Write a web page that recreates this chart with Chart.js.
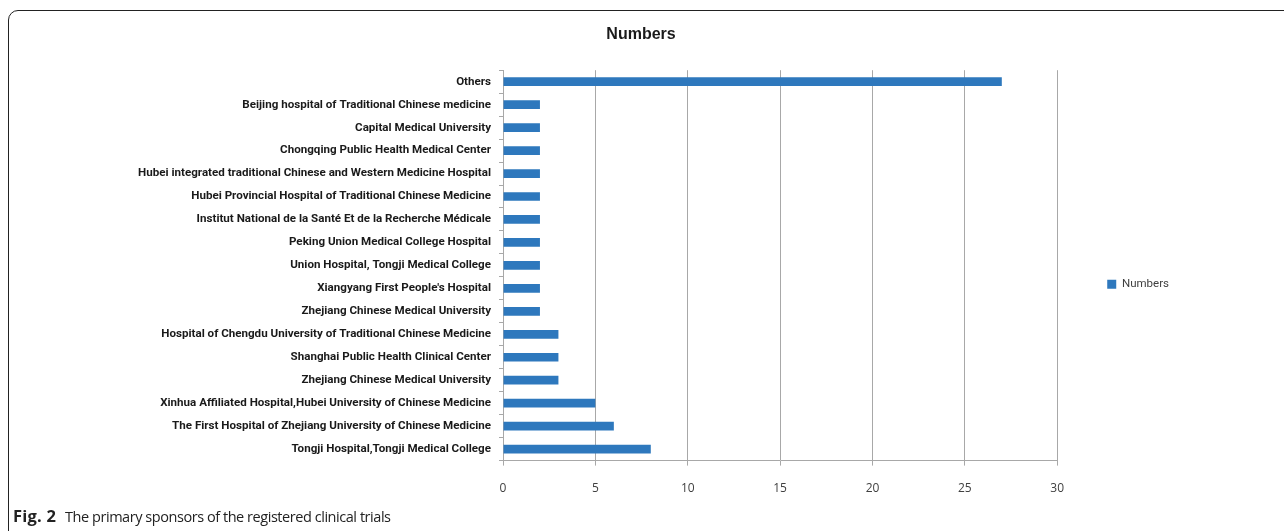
<!DOCTYPE html>
<html>
<head>
<meta charset="utf-8">
<script src="https://cdn.jsdelivr.net/npm/chart.js@4.4.1/dist/chart.umd.min.js"></script>
<style>
  html, body { margin: 0; padding: 0; background: #fff; overflow: hidden; }
  #wrap { position: relative; width: 1284px; height: 531px; }
  #frame { position: absolute; left: 8px; top: 10px; width: 1320px; height: 600px;
           border: 1.5px solid #222; border-radius: 10px; box-sizing: border-box; }
  #c { position: absolute; left: 0; top: 0; }
  #cap { position: absolute; left: 13px; top: 504px; font-family: "Open Sans", sans-serif;
         font-size: 14.5px; color: #222; white-space: nowrap; letter-spacing: -0.45px; }
  #cap b { font-weight: 700; margin-right: 9px; letter-spacing: 0.2px; font-size: 16.5px; }
</style>
</head>
<body>
<div id="wrap">
  <div id="frame"></div>
  <canvas id="c" width="1284" height="531"></canvas>
  <div id="cap"><b>Fig. 2</b>The primary sponsors of the registered clinical trials</div>
</div>
<script>
const categories = [
  "Others",
  "Beijing hospital of Traditional Chinese medicine",
  "Capital Medical University",
  "Chongqing Public Health Medical Center",
  "Hubei integrated traditional Chinese and Western Medicine Hospital",
  "Hubei Provincial Hospital of Traditional Chinese Medicine",
  "Institut National de la Santé Et de la Recherche Médicale",
  "Peking Union Medical College Hospital",
  "Union Hospital, Tongji Medical College",
  "Xiangyang First People's Hospital",
  "Zhejiang Chinese Medical University",
  "Hospital of Chengdu University of Traditional Chinese Medicine",
  "Shanghai Public Health Clinical Center",
  "Zhejiang Chinese Medical University",
  "Xinhua Affiliated Hospital,Hubei University of Chinese Medicine",
  "The First Hospital of Zhejiang University of Chinese Medicine",
  "Tongji Hospital,Tongji Medical College"
];
const numbers = [27, 2, 2, 2, 2, 2, 2, 2, 2, 2, 2, 3, 3, 3, 5, 6, 8];
const xTicks = [0, 5, 10, 15, 20, 25, 30];
const seriesName = "Numbers";

const PAD_L = 103;

new Chart(document.getElementById('c'), {
  type: 'bar',
  data: {
    labels: categories.map((c, i) => i),
    datasets: [{
      label: seriesName,
      data: numbers,
      backgroundColor: '#2e78bd',
      borderWidth: 0,
      barPercentage: 0.38,
      categoryPercentage: 1.0
    }]
  },
  options: {
    responsive: false,
    animation: false,
    indexAxis: 'y',
    layout: { padding: { left: PAD_L, right: 105, top: 0, bottom: 19 } },
    plugins: {
      title: {
        display: true, text: 'Numbers', color: '#1a1a1a',
        font: { family: 'Liberation Sans', size: 16, weight: 'bold' },
        padding: { top: 25, bottom: 26 }
      },
      legend: {
        display: true, position: 'right',
        title: { display: true, text: ' ', padding: 21, font: { size: 12 } },
        labels: {
          boxWidth: 9, boxHeight: 9, padding: 50, color: '#404040',
          font: { family: 'Roboto', size: 11.5 }
        }
      },
      tooltip: { enabled: false }
    },
    scales: {
      x: {
        type: 'linear', min: 0, max: 30,
        afterBuildTicks: s => { s.ticks = xTicks.map(v => ({ value: v })); },
        grid: { color: '#a8a8a8', lineWidth: 1, drawTicks: true, tickLength: 5, tickColor: '#a8a8a8' },
        border: { color: '#a8a8a8', width: 1 },
        ticks: { color: '#404040', padding: 16, font: { family: 'Open Sans', size: 12 } }
      },
      y: {
        type: 'category',
        afterFit: s => { s.width = 503 - PAD_L; },
        grid: { display: true, drawOnChartArea: false, offset: true, drawTicks: true, tickLength: 4, tickColor: '#a8a8a8' },
        border: { color: '#a8a8a8', width: 1 },
        ticks: {
          color: '#1a1a1a', padding: 8, autoSkip: false,
          font: { family: 'Roboto', size: 11.6, weight: 'bold' },
          callback: (v, i) => categories[i]
        }
      }
    }
  }
});
</script>
</body>
</html>
